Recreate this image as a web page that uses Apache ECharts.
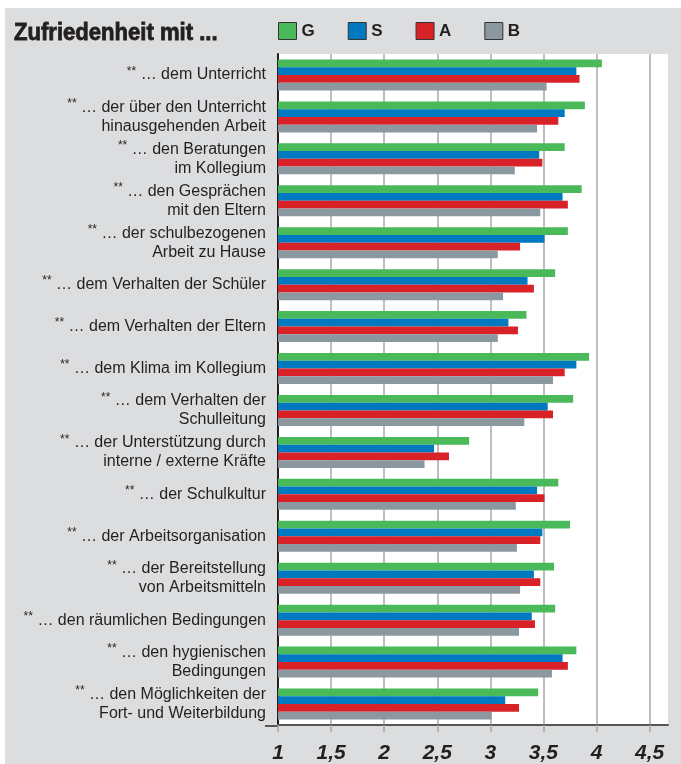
<!DOCTYPE html>
<html>
<head>
<meta charset="utf-8">
<script src="https://cdn.jsdelivr.net/npm/echarts@6/dist/echarts.min.js"></script>
<style>
  html, body { margin: 0; padding: 0; background: #fff; }
  #main { width: 681px; height: 764px; }
</style>
</head>
<body>
<div id="main"></div>
<script>
// categories top to bottom
var categories = [
  '** … dem Unterricht',
  '** … der über den Unterricht\nhinausgehenden Arbeit',
  '** … den Beratungen\nim Kollegium',
  '** … den Gesprächen\nmit den Eltern',
  '** … der schulbezogenen\nArbeit zu Hause',
  '** … dem Verhalten der Schüler',
  '** … dem Verhalten der Eltern',
  '** … dem Klima im Kollegium',
  '** … dem Verhalten der\nSchulleitung',
  '** … der Unterstützung durch\ninterne / externe Kräfte',
  '** … der Schulkultur',
  '** … der Arbeitsorganisation',
  '** … der Bereitstellung\nvon Arbeitsmitteln',
  '** … den räumlichen Bedingungen',
  '** … den hygienischen\nBedingungen',
  '** … den Möglichkeiten der\nFort- und Weiterbildung'
];
var seriesNames = ['G', 'S', 'A', 'B'];
var valuesG = [4.05, 3.89, 3.70, 3.86, 3.73, 3.61, 3.34, 3.93, 3.78, 2.80, 3.64, 3.75, 3.60, 3.61, 3.81, 3.45];
var valuesS = [3.81, 3.70, 3.46, 3.68, 3.51, 3.35, 3.17, 3.81, 3.54, 2.47, 3.44, 3.49, 3.41, 3.39, 3.68, 3.14];
var valuesA = [3.84, 3.64, 3.49, 3.73, 3.28, 3.41, 3.26, 3.70, 3.59, 2.61, 3.51, 3.47, 3.47, 3.42, 3.73, 3.27];
var valuesB = [3.53, 3.44, 3.23, 3.47, 3.07, 3.12, 3.07, 3.59, 3.32, 2.38, 3.24, 3.25, 3.28, 3.27, 3.58, 3.01];
var tickValues = [1, 1.5, 2, 2.5, 3, 3.5, 4, 4.5];
var colors = ['#49b95a', '#0079c1', '#d92128', '#8c989f'];

var allValues = [valuesG, valuesS, valuesA, valuesB];
// last split line sits on the axis end, keep it invisible
var gridColors = tickValues.map(function () { return '#a8a8a8'; }).concat(['rgba(0,0,0,0)']);
var font = '"Liberation Sans", Arial, sans-serif';

var myChart = echarts.init(document.getElementById('main'));
var option = {
  backgroundColor: '#dcdddf',
  animation: false,
  graphic: [
    { type: 'rect', left: 0, top: 0, shape: { width: 681, height: 8 }, style: { fill: '#fff' }, silent: true },
    { type: 'rect', left: 0, top: 0, shape: { width: 5, height: 764 }, style: { fill: '#fff' }, silent: true },
    { type: 'line', shape: { x1: 265, y1: 726, x2: 279, y2: 726 }, style: { stroke: '#555', lineWidth: 2 }, silent: true },
    {
      type: 'text', x: 14, y: 22, scaleX: 0.96,
      style: {
        text: 'Zufriedenheit mit ...',
        fontFamily: font,
        fontSize: 23,
        fontWeight: 'bold',
        fill: '#231f20',
        stroke: '#231f20',
        lineWidth: 0.8
      },
      silent: true
    }
  ],
  legend: {
    data: seriesNames,
    left: 273,
    top: 17,
    icon: 'rect',
    itemWidth: 18,
    itemHeight: 17,
    itemGap: 33,
    textStyle: {
      fontFamily: font,
      fontSize: 17,
      fontWeight: 'bold',
      color: '#231f20'
    },
    itemStyle: { borderColor: '#333', borderWidth: 1 }
  },
  grid: {
    left: 278,
    right: 13,
    top: 54,
    bottom: 38,
    show: true,
    backgroundColor: '#fff',
    borderWidth: 0
  },
  xAxis: {
    type: 'value',
    min: 1,
    max: 4.673,
    interval: 0.5,
    axisLine: { show: true, lineStyle: { color: '#555', width: 2 } },
    axisTick: {
      show: true, length: 7, customValues: tickValues,
      lineStyle: { color: '#a8a8a8', width: 1.5 }
    },
    splitLine: { show: true, lineStyle: { color: gridColors, width: 1.5 } },
    axisLabel: {
      customValues: tickValues,
      margin: 18,
      fontFamily: font,
      fontSize: 21,
      fontWeight: 'bold',
      fontStyle: 'italic',
      color: '#231f20',
      formatter: function (v) { return String(v).replace('.', ','); }
    }
  },
  yAxis: {
    type: 'category',
    inverse: true,
    data: categories,
    axisLine: { show: true, onZero: false, lineStyle: { color: '#231f20', width: 2 } },
    axisTick: { show: false },
    axisLabel: {
      margin: 12,
      fontFamily: font,
      fontSize: 16,
      lineHeight: 19,
      color: '#231f20',
      align: 'right',
      formatter: function (v) { return v.replace('**', '{s|**}'); },
      rich: {
        s: { fontSize: 12, fontFamily: font, color: '#231f20', verticalAlign: 'top', lineHeight: 17 }
      }
    }
  },
  series: seriesNames.map(function (name, i) {
    return {
      name: name,
      type: 'bar',
      data: allValues[i],
      barGap: '0%',
      barCategoryGap: '26%',
      itemStyle: { color: colors[i] }
    };
  })
};
myChart.setOption(option);
</script>
</body>
</html>
